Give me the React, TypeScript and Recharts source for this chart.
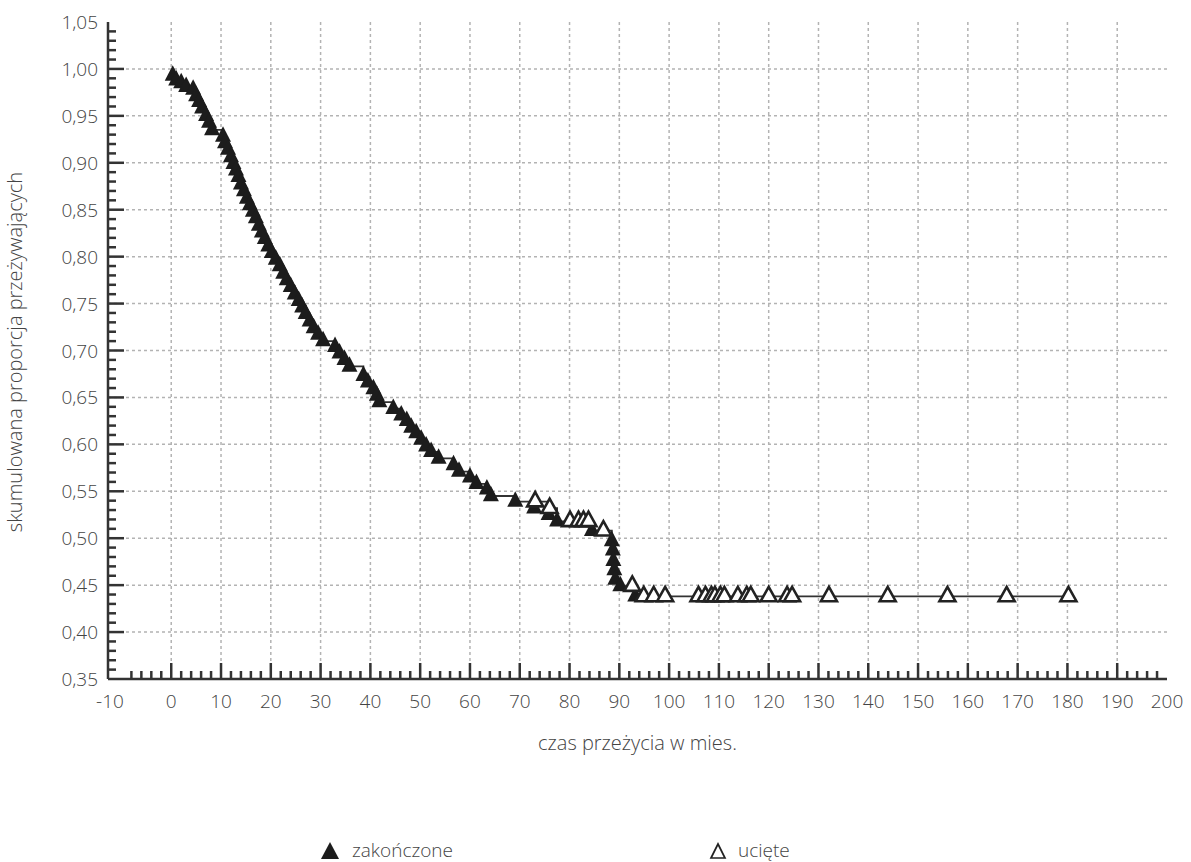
import React from "react";
import {
  CartesianGrid,
  ComposedChart,
  Legend,
  Line,
  Scatter,
  XAxis,
  YAxis,
} from "recharts";

// survival times (months) and cumulative survival
const eventTimes = [
  0.3, 1.0, 2.0, 3.0, 4.4, 5.0, 5.6, 6.2, 7.0, 7.6, 8.2, 10.4, 10.8, 11.4, 12.0,
  12.5, 13.0, 13.5, 14.0, 14.6, 15.2, 15.8, 16.4, 17.0, 17.6, 18.2, 18.8, 19.5,
  20.2, 21.0, 21.8, 22.5, 23.2, 24.0, 24.8, 25.6, 26.3, 27.0, 27.8, 28.6, 29.5,
  30.5, 32.9, 33.8, 34.8, 35.8, 38.6, 39.5, 40.6, 41.3, 41.8, 44.6, 46.2, 47.3,
  48.2, 49.2, 50.2, 51.2, 52.2, 53.7, 56.7, 57.8, 60.0, 61.3, 63.4, 64.2, 69.1,
  72.9, 75.8, 77.5, 84.5, 88.5, 88.7, 88.8, 89.0, 89.2, 90.2, 93.2,
];
const eventSurv = [
  0.993, 0.988, 0.985, 0.981, 0.978, 0.971, 0.965, 0.958, 0.95, 0.943, 0.935,
  0.928, 0.921, 0.914, 0.906, 0.899, 0.892, 0.885, 0.877, 0.87, 0.862, 0.855,
  0.848, 0.841, 0.833, 0.826, 0.819, 0.811, 0.804, 0.797, 0.79, 0.782, 0.775,
  0.768, 0.76, 0.753, 0.746, 0.739, 0.731, 0.724, 0.717, 0.71, 0.704, 0.697,
  0.69, 0.683, 0.673, 0.666, 0.659, 0.652, 0.645, 0.638, 0.631, 0.625, 0.618,
  0.612, 0.605, 0.598, 0.592, 0.585, 0.578, 0.571, 0.565, 0.558, 0.552, 0.545,
  0.539, 0.532, 0.525, 0.518, 0.508, 0.497, 0.487, 0.476, 0.466, 0.456, 0.449,
  0.438,
];
const censTimes = [
  73.1, 76.0, 80.1, 81.8, 82.8, 83.8, 86.8, 92.6, 94.9, 96.9, 99.2, 105.9,
  107.3, 108.5, 109.2, 110.3, 111.1, 113.8, 115.6, 116.4, 120.0, 123.7, 124.7,
  132.1, 143.9, 155.9, 167.8, 180.2,
];
const censSurv = [
  0.539, 0.532, 0.518, 0.518, 0.518, 0.518, 0.508, 0.449, 0.438, 0.438, 0.438,
  0.438, 0.438, 0.438, 0.438, 0.438, 0.438, 0.438, 0.438, 0.438, 0.438, 0.438,
  0.438, 0.438, 0.438, 0.438, 0.438, 0.438,
];

const xMajor = [0, 10, 20, 30, 40, 50, 60, 70, 80, 90, 100, 110, 120, 130, 140, 150, 160, 170, 180, 190, 200];
const yMajor = [0.35, 0.4, 0.45, 0.5, 0.55, 0.6, 0.65, 0.7, 0.75, 0.8, 0.85, 0.9, 0.95, 1.0, 1.05];
const xMin = -12.7; // left edge of the frame, labelled "-10" in the original
const xMinLabel = "-10";

const events = eventTimes.map((t, i) => ({ t, s: eventSurv[i] }));
const censored = censTimes.map((t, i) => ({ t, s: censSurv[i] }));
const curve = [...events, ...censored].sort((a, b) => a.t - b.t);

const xTicks: number[] = [xMin];
for (let k = -4; k <= 100; k++) xTicks.push(k * 2);
const yTicks: number[] = [];
for (let k = 35; k <= 105; k++) yTicks.push(k / 100);

// plot frame (page pixels)
const W = 1191;
const H = 862;
const left = 108;
const right = 1167;
const top = 22;
const bottom = 679;

const font = "'Open Sans', 'Noto Sans', sans-serif";
const ink = "#333";
const textColor = "#444";

const isMajorX = (v: number) => v === xMin || Math.abs(v % 10) < 1e-6;
const isMajorY = (v: number) => Math.round(v * 100) % 5 === 0;
const fmtY = (v: number) => v.toFixed(2).replace(".", ",");

const BottomTick = (props: any) => {
  const { x, payload } = props;
  const v = payload.value;
  const major = isMajorX(v);
  const inside = v > xMin + 0.1 && v < 199.9;
  return (
    <g>
      {inside && (
        <line x1={x} x2={x} y1={bottom} y2={bottom - (major ? 16 : 8)} stroke={ink} strokeWidth={2.5} />
      )}
      {major && (
        <text x={x + (v === xMin ? 2 : 0)} y={bottom + 29} textAnchor="middle" fill={textColor} fontSize={19} fontWeight={300} fontFamily={font}>
          {v === xMin ? xMinLabel : v}
        </text>
      )}
    </g>
  );
};

const TopTick = (props: any) => {
  const { x, payload } = props;
  const v = payload.value;
  if (!(v > xMin + 0.1 && v < 199.9)) return <g />;
  return <line x1={x} x2={x} y1={top} y2={top + (isMajorX(v) ? 16 : 8)} stroke={ink} strokeWidth={2.5} />;
};

const LeftTick = (props: any) => {
  const { y, payload } = props;
  const v = payload.value;
  const major = isMajorY(v);
  const inside = v > 0.355 && v < 1.045;
  return (
    <g>
      {inside && (
        <line x1={left} x2={left + (major ? 16 : 8)} y1={y} y2={y} stroke={ink} strokeWidth={2.5} />
      )}
      {major && (
        <text x={left - 10} y={y + 7} textAnchor="end" fill={textColor} fontSize={19} fontWeight={300} fontFamily={font}>
          {fmtY(v)}
        </text>
      )}
    </g>
  );
};

const RightTick = (props: any) => {
  const { y, payload } = props;
  const v = payload.value;
  if (!(v > 0.355 && v < 1.045)) return <g />;
  return <line x1={right} x2={right - (isMajorY(v) ? 16 : 8)} y1={y} y2={y} stroke={ink} strokeWidth={2.5} />;
};

const FilledTri = (props: any) => {
  const { cx, cy } = props;
  if (cx == null || cy == null) return <g />;
  return (
    <path d={`M${cx},${cy - 10.3}L${cx + 8},${cy + 5.2}L${cx - 8},${cy + 5.2}Z`} fill="#1c1c1c" />
  );
};

const HollowTri = (props: any) => {
  const { cx, cy } = props;
  if (cx == null || cy == null) return <g />;
  return (
    <path
      d={`M${cx},${cy - 9.6}L${cx + 8},${cy + 4.8}L${cx - 8},${cy + 4.8}Z`}
      fill="#fff"
      stroke="#222"
      strokeWidth={2.6}
    />
  );
};

const XTitle = () => (
  <text x={(left + right) / 2} y={750} textAnchor="middle" fill={textColor} fontSize={20} fontWeight={300} fontFamily={font}>
    czas przeżycia w mies.
  </text>
);

const YTitle = () => (
  <text
    x={22}
    y={352}
    transform="rotate(-90 22 352)"
    textAnchor="middle"
    fill={textColor}
    fontSize={20}
    fontWeight={300}
    fontFamily={font}
  >
    skumulowana proporcja przeżywających
  </text>
);

const LegendBox = () => (
  <div style={{ position: "relative", height: 24, fontFamily: font, fontWeight: 300, fontSize: 19, color: textColor }}>
    <svg style={{ position: "absolute", left: 320, top: 3 }} width={20} height={20}>
      <path d="M10,1L19,18L1,18Z" fill="#1c1c1c" />
    </svg>
    <span style={{ position: "absolute", left: 352, top: 0, lineHeight: "24px" }}>zakończone</span>
    <svg style={{ position: "absolute", left: 709, top: 4 }} width={18} height={18}>
      <path d="M9,2L16,16L2,16Z" fill="#fff" stroke="#222" strokeWidth={1.7} />
    </svg>
    <span style={{ position: "absolute", left: 738, top: 0, lineHeight: "24px" }}>ucięte</span>
  </div>
);

const App: React.FC = () => {
  return (
    <div style={{ position: "absolute", left: 0, top: 0 }}>
      <ComposedChart width={W} height={H} margin={{ top, right: W - right, left: 0, bottom: 0 }}>
        <CartesianGrid
          stroke="#b3b3b3"
          strokeWidth={1.5}
          strokeDasharray="3 3"
          verticalValues={xMajor.filter((v) => v < 200)}
          horizontalValues={yMajor.filter((v) => v > 0.36 && v < 1.04)}
        />
        <XAxis
          type="number"
          dataKey="t"
          domain={[xMin, 200]}
          ticks={xTicks}
          interval={0}
          tick={BottomTick}
          tickLine={false}
          tickSize={0}
          tickMargin={0}
          height={H - 24 - bottom}
          axisLine={{ stroke: ink, strokeWidth: 2.5 }}
          allowDataOverflow
          label={XTitle}
        />
        <XAxis
          xAxisId="top"
          orientation="top"
          type="number"
          domain={[xMin, 200]}
          ticks={xTicks}
          interval={0}
          tick={TopTick}
          tickLine={false}
          tickSize={0}
          tickMargin={0}
          height={0}
          axisLine={{ stroke: ink, strokeWidth: 2.5 }}
          allowDataOverflow
        />
        <YAxis
          type="number"
          dataKey="s"
          domain={[0.35, 1.05]}
          ticks={yTicks}
          interval={0}
          tick={LeftTick}
          tickLine={false}
          tickSize={0}
          tickMargin={0}
          width={left}
          axisLine={{ stroke: ink, strokeWidth: 2.5 }}
          allowDataOverflow
          label={YTitle}
        />
        <YAxis
          yAxisId="right"
          orientation="right"
          type="number"
          domain={[0.35, 1.05]}
          ticks={yTicks}
          interval={0}
          tick={RightTick}
          tickLine={false}
          tickSize={0}
          tickMargin={0}
          width={0}
          axisLine={{ stroke: ink, strokeWidth: 2.5 }}
          allowDataOverflow
        />
        <Line
          data={curve}
          dataKey="s"
          type="stepAfter"
          stroke={ink}
          strokeWidth={1.8}
          dot={false}
          activeDot={false}
          isAnimationActive={false}
        />
        <Scatter data={events} dataKey="s" shape={FilledTri} isAnimationActive={false} />
        <Scatter data={censored} dataKey="s" shape={HollowTri} isAnimationActive={false} />
        <Legend verticalAlign="bottom" content={LegendBox} />
      </ComposedChart>
    </div>
  );
};

export default App;
